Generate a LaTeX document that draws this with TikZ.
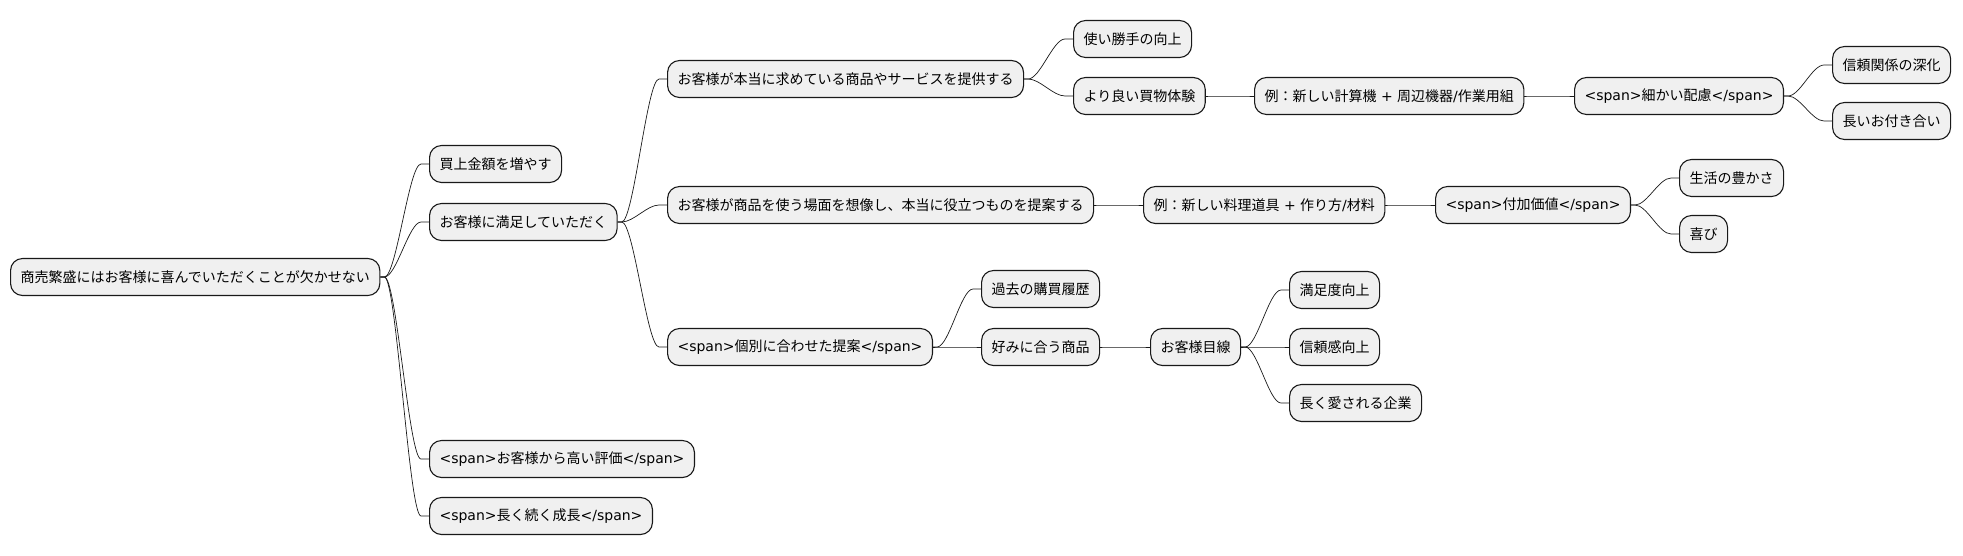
\documentclass[tikz,border=0pt]{standalone}
\usepackage{fontspec}
\setmainfont{Noto Sans CJK JP}
\newfontfamily\dv{DejaVu Sans}
\newcommand\spn[1]{{\dv<span>}#1{\dv</span>}}
\begin{document}
\begin{tikzpicture}[x=1pt,y=-1pt,
  box/.style={draw=black!90, line width=1.1pt, fill=black!6, rounded corners=12pt,
    inner xsep=10pt, inner ysep=0pt, minimum height=37pt, anchor=west,
    font=\fontsize{14pt}{17pt}\selectfont},
  conn/.style={draw=black!90, line width=0.7pt}]
\useasboundingbox (0,0) rectangle (1963,555);
\newcommand\link[2]{\draw[conn] (#1.east) -- ([xshift=4pt]#1.east) .. controls ([xshift=16pt]#1.east) and ([xshift=-20pt]#2.west) .. ([xshift=-8pt]#2.west) -- (#2.west);}
\node[box] (root) at (10,277) {商売繁盛にはお客様に喜んでいただくことが欠かせない};
\node[box] (a1) at (429,164) {買上金額を増やす};
\node[box] (a2) at (429,222) {お客様に満足していただく};
\node[box] (a3) at (429,459) {\spn{お客様から高い評価}};
\node[box] (a4) at (429,516) {\spn{長く続く成長}};
\node[box] (b1) at (667,79) {お客様が本当に求めている商品やサービスを提供する};
\node[box] (b2) at (667,205) {お客様が商品を使う場面を想像し、本当に役立つものを提案する};
\node[box] (b3) at (667,347) {\spn{個別に合わせた提案}};
\node[box] (c1) at (1073,39) {使い勝手の向上};
\node[box] (c2) at (1073,96) {より良い買物体験};
\node[box] (c3) at (1143,205) {例：新しい料理道具{\dv{} + }作り方{\dv/}材料};
\node[box] (c4) at (981,289) {過去の購買履歴};
\node[box] (c5) at (981,347) {好みに合う商品};
\node[box] (d1) at (1254,96) {例：新しい計算機{\dv{} + }周辺機器{\dv/}作業用組};
\node[box] (d2) at (1435,205) {\spn{付加価値}};
\node[box] (d3) at (1150,347) {お客様目線};
\node[box] (e1) at (1574,96) {\spn{細かい配慮}};
\node[box] (e2) at (1679,178) {生活の豊かさ};
\node[box] (e3) at (1679,234) {喜び};
\node[box] (e4) at (1289,290) {満足度向上};
\node[box] (e5) at (1289,347) {信頼感向上};
\node[box] (e6) at (1289,403) {長く愛される企業};
\node[box] (f1) at (1832,65) {信頼関係の深化};
\node[box] (f2) at (1832,121) {長いお付き合い};
\link{root}{a1}\link{root}{a2}\link{root}{a3}\link{root}{a4}
\link{a2}{b1}\link{a2}{b2}\link{a2}{b3}
\link{b1}{c1}\link{b1}{c2}\link{c2}{d1}\link{d1}{e1}\link{e1}{f1}\link{e1}{f2}
\link{b2}{c3}\link{c3}{d2}\link{d2}{e2}\link{d2}{e3}
\link{b3}{c4}\link{b3}{c5}\link{c5}{d3}\link{d3}{e4}\link{d3}{e5}\link{d3}{e6}
\end{tikzpicture}
\end{document}
